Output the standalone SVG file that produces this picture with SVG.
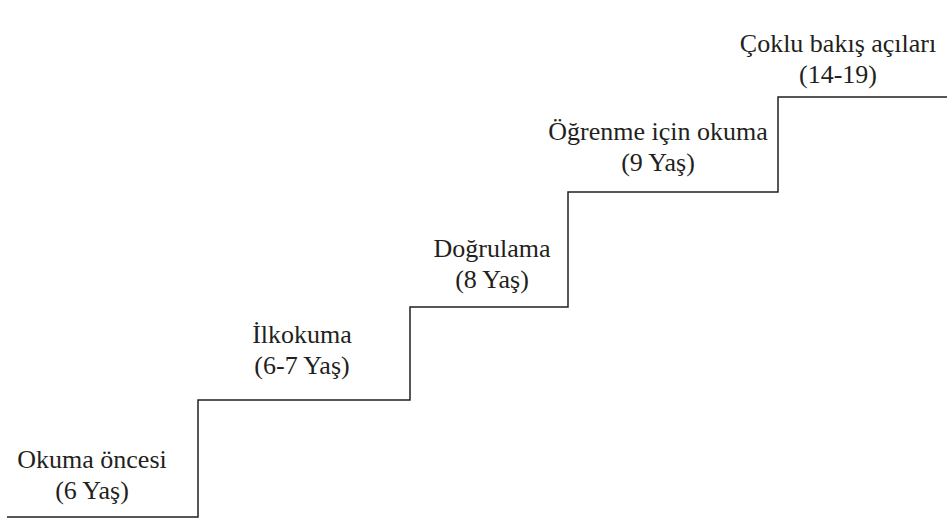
<svg xmlns="http://www.w3.org/2000/svg" width="947" height="523" viewBox="0 0 947 523">
<style>
.t{font-family:"Liberation Serif","Times New Roman",serif;font-size:26px;fill:#231f20;text-anchor:middle}
.l{fill:none;stroke:#231f20;stroke-width:1.5}
</style>
<rect width="947" height="523" fill="#fff"/>
<g id="connectors">
<path class="l" d="M7,517 H198 V400 H410 V307 H568 V192 H778 V97 H947"/>
</g>
<g id="step1"><text class="t" x="92" y="468">Okuma öncesi</text><text class="t" x="92" y="499">(6 Yaş)</text></g>
<g id="step2"><text class="t" x="302" y="343">İlkokuma</text><text class="t" x="302" y="374">(6-7 Yaş)</text></g>
<g id="step3"><text class="t" x="492" y="257">Doğrulama</text><text class="t" x="492" y="288">(8 Yaş)</text></g>
<g id="step4"><text class="t" x="658" y="140">Öğrenme için okuma</text><text class="t" x="658" y="171">(9 Yaş)</text></g>
<g id="step5"><text class="t" x="838" y="52">Çoklu bakış açıları</text><text class="t" x="838" y="83">(14-19)</text></g>
</svg>
